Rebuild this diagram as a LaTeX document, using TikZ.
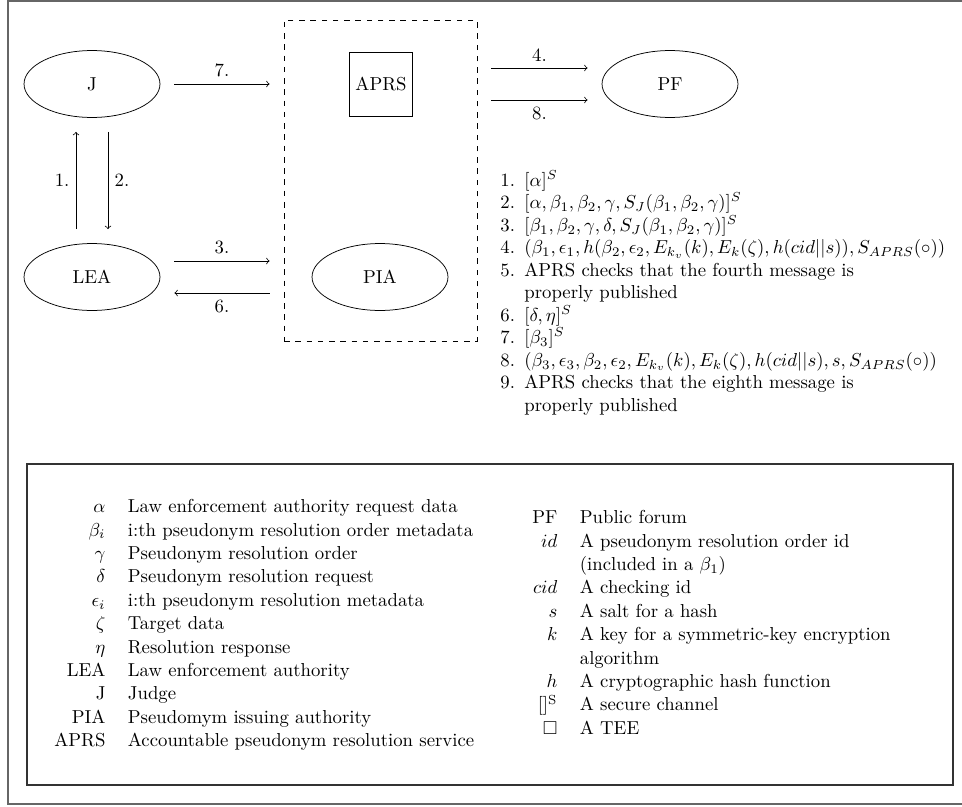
\documentclass[tikz,border=0pt]{standalone}
\usepackage{amsmath,amssymb}
\usetikzlibrary{calc,shapes.geometric}

\tikzset{every picture/.style={line width=0.4pt}}
\tikzset{
  party/.style={draw, ellipse, minimum width=72.5pt, minimum height=35.7pt, inner sep=0.75pt},
  teebox/.style={draw, minimum height=34pt, inner sep=3.33pt},
  enclave/.style={draw, dashed, minimum width=102.9pt, minimum height=171.2pt},
  msg/.style={->, shorten >=7.5pt, shorten <=7.5pt},
}

\begin{document}
\begin{tikzpicture}[x=0.5333pt,y=0.5333pt,yscale=-1,xscale=1]
\useasboundingbox (0,0) rectangle (962,806);

% Frame
\draw[black!60, line width=0.8pt] (962,1) -- (8,1) -- (8,804) -- (962,804);

% Parties
\node[party] (j) at (92,84) {J};
\node[party] (lea) at (92,277) {LEA};
\node[party] (pia) at (380,277) {PIA};
\node[party] (pf) at (670,84) {PF};
\node[teebox] (aprs) at (381,84) {APRS};
\node[enclave] (tee) at (380.5,180.5) {};

% Messages
\draw[msg] ($(lea.north)+(-16,0)$) -- ($(j.south)+(-16,0)$) node[midway,left] {1.};
\draw[msg] ($(j.south)+(16,0)$) -- ($(lea.north)+(16,0)$) node[midway,right] {2.};
\draw[msg] ($(lea.east)+(0,-16)$) -- ($(lea.east -| tee.west)+(0,-16)$) node[midway,above] {3.};
\draw[msg] ($(lea.east -| tee.west)+(0,16)$) -- ($(lea.east)+(0,16)$) node[midway,below] {6.};
\draw[msg] (j.east) -- (j.east -| tee.west) node[midway,above] {7.};
\draw[msg] ($(pf.west -| tee.east)+(0,-16)$) -- ($(pf.west)+(0,-16)$) node[midway,above] {4.};
\draw[msg] ($(pf.west -| tee.east)+(0,16)$) -- ($(pf.west)+(0,16)$) node[midway,below] {8.};

% Text Node
\node[anchor=north west, inner sep=0pt] (steps) at (500,170) {%
\begin{tabular}{@{}r@{\hspace{5pt}}l@{}}
1. & $[\alpha]^S$ \\
2. & $[\alpha,\beta_1,\beta_2,\gamma,S_J(\beta_1,\beta_2,\gamma)]^S$ \\
3. & $[\beta_1,\beta_2,\gamma,\delta,S_J(\beta_1,\beta_2,\gamma)]^S$ \\
4. & $(\beta_1,\epsilon_1,h(\beta_2,\epsilon_2,E_{k_v}(k),E_k(\zeta),h(cid||s)),S_{APRS}(\circ))$ \\
5. & APRS checks that the fourth message is \\
   & properly published \\
6. & $[\delta,\eta]^S$ \\
7. & $[\beta_3]^S$ \\
8. & $(\beta_3,\epsilon_3,\beta_2,\epsilon_2,E_{k_v}(k),E_k(\zeta),h(cid||s),s,S_{APRS}(\circ))$ \\
9. & APRS checks that the eighth message is \\
   & properly published
\end{tabular}};

% Legend
\draw[black!80, line width=0.6pt] (27,464) rectangle (953,785);

% Text Node
\node[anchor=north west, inner sep=0pt] (symbols) at (54,496) {%
\renewcommand{\arraystretch}{1.04}%
\begin{tabular}{@{}rl@{}}
$\alpha$ & Law enforcement authority request data \\
$\beta_i$ & i:th pseudonym resolution order metadata \\
$\gamma$ & Pseudonym resolution order \\
$\delta$ & Pseudonym resolution request \\
$\epsilon_i$ & i:th pseudonym resolution metadata \\
$\zeta$ & Target data \\
$\eta$ & Resolution response \\
LEA & Law enforcement authority \\
J & Judge \\
PIA & Pseudomym issuing authority \\
APRS & Accountable pseudonym resolution service
\end{tabular}};

% Text Node
\node[anchor=north west, inner sep=0pt] (notation) at (532,507) {%
\renewcommand{\arraystretch}{1.04}%
\begin{tabular}{@{}rl@{}}
PF & Public forum \\
$id$ & A pseudonym resolution order id \\
 & (included in a $\beta_1$) \\
$cid$ & A checking id \\
$s$ & A salt for a hash \\
$k$ & A key for a symmetric-key encryption \\
 & algorithm \\
$h$ & A cryptographic hash function \\
$[]^{\mathrm{S}}$ & A secure channel \\
$\square$ & A TEE
\end{tabular}};

\end{tikzpicture}
\end{document}
